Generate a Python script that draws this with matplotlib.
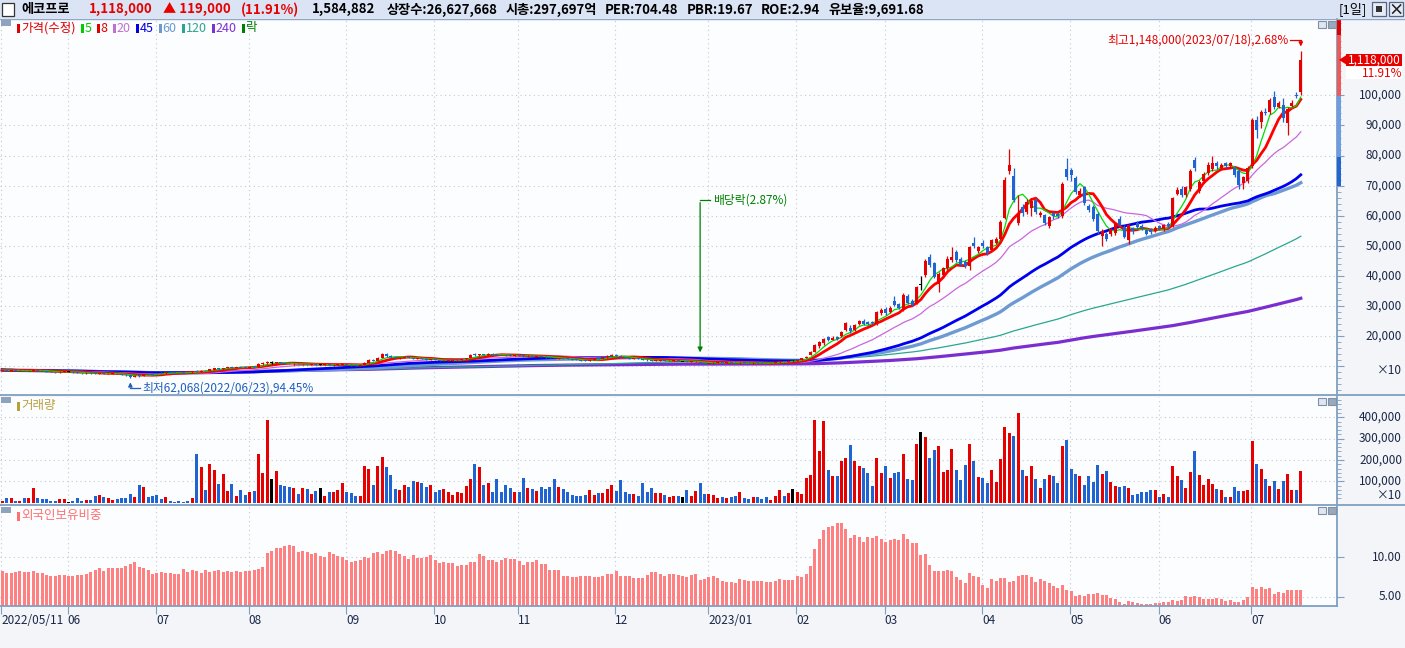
import numpy as np
import pandas as pd
import matplotlib
matplotlib.use("Agg")
import matplotlib.pyplot as plt
from matplotlib.patches import Rectangle, Polygon
from matplotlib.lines import Line2D
from matplotlib.transforms import blended_transform_factory

plt.rcParams['font.family'] = ['Noto Sans CJK KR', 'DejaVu Sans']

W, H = 1405, 648

# daily candles, adjusted price in thousands of won
opens = [
    86, 88, 85, 87, 84, 86, 84, 85, 89, 86,
    84, 82, 81, 80, 81, 82, 82, 80, 78, 77,
    79, 77, 74, 77, 74, 75, 76, 74, 72, 70,
    66, 70, 68, 75, 74, 78, 79, 77, 80, 80,
    79, 80, 81, 80, 86, 82, 86, 84, 89, 93,
    90, 95, 97, 95, 98, 97, 95, 100, 98, 107,
    110, 112, 110, 113, 110, 109, 106, 109, 106, 108,
    105, 107, 105, 104, 106, 103, 104, 105, 108, 105,
    104, 101, 104, 112, 122, 118, 128, 141, 134, 130,
    126, 128, 131, 128, 124, 127, 125, 121, 124, 121,
    117, 118, 119, 120, 121, 123, 127, 140, 136, 141,
    138, 142, 140, 139, 138, 137, 134, 137, 136, 133,
    135, 132, 134, 132, 130, 128, 125, 128, 126, 124,
    123, 121, 120, 118, 121, 126, 124, 130, 134, 139,
    135, 131, 128, 124, 127, 124, 122, 120, 117, 119,
    121, 117, 118, 120, 117, 117, 115, 116, 113, 111,
    109, 110, 111, 114, 111, 113, 112, 110, 113, 112,
    110, 113, 112, 111, 110, 111, 113, 117, 115, 118,
    118, 121, 128, 138, 148, 166, 176, 196, 188, 198,
    200, 222, 228, 220, 240, 250, 246, 248, 240, 277,
    290, 282, 318, 306, 288, 332, 318, 310, 372, 404,
    464, 442, 372, 404, 426, 454, 480, 458, 446, 432,
    508, 482, 510, 496, 486, 510, 522, 592, 750, 732,
    576, 630, 612, 626, 652, 602, 602, 565, 608, 606,
    598, 754, 752, 726, 670, 694, 632, 630, 606, 534,
    538, 540, 542, 588, 564, 518, 558, 577, 566, 552,
    552, 550, 566, 556, 574, 566, 674, 690, 670, 688,
    784, 682, 714, 742, 754, 775, 760, 776, 766, 758,
    750, 708, 714, 765, 918, 912, 946, 944, 995, 962,
    968, 908, 966, 1001, 1012,
]
highs = [
    89, 89, 88, 88, 87, 87, 87, 91, 90, 87,
    85, 83, 82, 83, 84, 83, 83, 81, 79, 80,
    80, 78, 78, 78, 77, 78, 77, 75, 73, 71,
    70, 71, 75, 76, 75, 79, 80, 81, 81, 81,
    80, 81, 82, 84, 88, 87, 87, 92, 95, 94,
    96, 98, 98, 98, 99, 98, 100, 101, 110, 113,
    118, 116, 115, 114, 111, 110, 110, 110, 109, 109,
    108, 108, 106, 107, 107, 106, 107, 110, 109, 106,
    105, 105, 114, 124, 124, 130, 145, 143, 136, 131,
    130, 132, 132, 129, 128, 128, 126, 125, 125, 122,
    120, 121, 122, 123, 125, 128, 141, 143, 142, 142,
    143, 143, 141, 140, 139, 138, 138, 138, 137, 136,
    136, 135, 135, 133, 131, 129, 129, 129, 127, 125,
    124, 122, 121, 122, 126, 127, 131, 136, 140, 141,
    136, 132, 129, 128, 128, 125, 123, 121, 121, 122,
    122, 120, 121, 121, 118, 118, 118, 119, 114, 112,
    112, 113, 115, 115, 114, 114, 113, 113, 114, 113,
    113, 114, 113, 112, 112, 114, 117, 118, 119, 120,
    122, 127, 134, 150, 175, 184, 195, 200, 200, 202,
    218, 248, 236, 240, 254, 256, 250, 252, 284, 292,
    296, 300, 335, 310, 342, 340, 322, 366, 400, 458,
    472, 446, 412, 430, 465, 496, 485, 462, 452, 500,
    530, 500, 520, 500, 524, 530, 586, 730, 822, 760,
    670, 640, 655, 660, 660, 615, 606, 600, 614, 612,
    712, 791, 760, 732, 692, 700, 640, 636, 612, 556,
    545, 560, 580, 600, 568, 572, 562, 582, 572, 556,
    560, 566, 570, 574, 578, 664, 696, 698, 700, 756,
    795, 720, 746, 780, 798, 782, 775, 780, 780, 764,
    756, 732, 765, 925, 930, 950, 958, 990, 1016, 980,
    990, 962, 985, 1010, 1148,
]
lows = [
    85, 85, 84, 84, 83, 83, 83, 84, 85, 83,
    81, 80, 79, 79, 80, 81, 79, 77, 76, 76,
    76, 73, 73, 74, 73, 74, 73, 71, 69, 62.068,
    65, 66, 67, 72, 71, 75, 76, 76, 78, 77,
    77, 78, 79, 79, 81, 81, 83, 83, 88, 89,
    89, 94, 94, 94, 95, 94, 94, 96, 97, 105,
    108, 108, 109, 109, 107, 106, 105, 106, 105, 105,
    104, 104, 104, 103, 103, 102, 103, 104, 104, 102,
    101, 100, 103, 111, 117, 117, 127, 132, 128, 125,
    125, 127, 127, 124, 123, 123, 121, 120, 120, 117,
    116, 117, 118, 119, 120, 122, 126, 135, 135, 137,
    137, 138, 137, 136, 135, 133, 133, 134, 132, 132,
    132, 131, 131, 129, 127, 125, 124, 125, 123, 121,
    120, 118, 117, 117, 120, 123, 123, 129, 133, 134,
    130, 127, 124, 123, 123, 121, 119, 117, 116, 118,
    117, 116, 117, 116, 116, 114, 114, 115, 110, 108,
    108, 109, 110, 111, 110, 110, 109, 109, 110, 109,
    109, 110, 109, 109, 109, 110, 112, 114, 114, 116,
    117, 120, 126, 136, 146, 162, 172, 185, 186, 188,
    196, 218, 212, 216, 236, 236, 236, 240, 238, 272,
    270, 278, 300, 290, 284, 306, 300, 306, 353, 398,
    430, 392, 348, 398, 420, 448, 448, 432, 426, 420,
    494, 478, 494, 470, 482, 506, 518, 588, 740, 645,
    570, 598, 605, 599, 605, 596, 570, 560, 590, 592,
    594, 720, 715, 672, 662, 636, 612, 584, 540, 500,
    515, 532, 536, 565, 525, 505, 540, 556, 552, 535,
    540, 545, 552, 550, 560, 562, 668, 664, 664, 682,
    750, 676, 708, 736, 748, 755, 752, 758, 760, 730,
    690, 690, 708, 760, 860, 890, 935, 938, 955, 958,
    910, 870, 960, 990, 1000,
]
closes = [
    88, 86, 87, 85, 86, 84, 86, 89, 86, 84,
    82, 81, 80, 82, 83, 82, 80, 78, 77, 79,
    77, 74, 77, 75, 76, 77, 74, 72, 70, 66,
    69, 67, 74, 73, 72, 76, 77, 80, 79, 78,
    78, 79, 80, 83, 82, 86, 84, 90, 93, 90,
    95, 97, 95, 97, 96, 95, 99, 97, 107, 111,
    114, 112, 113, 110, 108, 107, 109, 107, 108, 106,
    107, 105, 105, 106, 104, 105, 106, 108, 105, 103,
    102, 104, 112, 121, 118, 128, 140, 134, 130, 127,
    129, 131, 128, 125, 127, 124, 122, 124, 121, 118,
    119, 120, 121, 122, 124, 127, 138, 136, 140, 138,
    141, 139, 138, 137, 136, 134, 137, 135, 133, 135,
    133, 134, 132, 130, 128, 126, 128, 126, 124, 122,
    121, 119, 118, 121, 125, 124, 130, 134, 138, 135,
    131, 128, 125, 127, 124, 122, 120, 118, 120, 121,
    118, 119, 120, 117, 117, 115, 117, 118, 111, 109,
    111, 112, 114, 112, 113, 111, 110, 112, 111, 110,
    112, 111, 110, 110, 111, 113, 116, 115, 118, 118,
    121, 126, 132, 148, 170, 180, 192, 188, 194, 192,
    215, 243, 216, 236, 251, 240, 240, 244, 280, 288,
    276, 292, 305, 294, 336, 310, 305, 362, 372, 450,
    437, 398, 408, 425, 458, 462, 454, 438, 432, 496,
    498, 496, 498, 476, 518, 524, 580, 720, 768, 652,
    610, 608, 645, 650, 614, 610, 576, 596, 598, 598,
    707, 730, 735, 680, 682, 642, 620, 590, 548, 548,
    522, 555, 574, 570, 531, 568, 548, 564, 558, 540,
    546, 560, 560, 570, 566, 660, 686, 670, 696, 750,
    760, 712, 740, 768, 774, 764, 768, 766, 775, 736,
    702, 728, 760, 918, 886, 944, 940, 984, 962, 974,
    924, 956, 976, 999, 1118,
]
# volume in thousands of (x10) shares
volumes = [
    9, 23, 22, 9, 9, 22, 24, 70, 24, 19,
    19, 9, 9, 15, 19, 5, 9, 23, 9, 14,
    14, 33, 38, 28, 23, 14, 19, 23, 23, 42,
    28, 84, 75, 28, 33, 38, 19, 28, 9, 4,
    9, 5, 9, 23, 230, 165, 61, 183, 155, 89,
    136, 56, 89, 33, 61, 38, 52, 56, 230, 141,
    385, 113, 150, 84, 80, 75, 70, 42, 70, 66,
    42, 56, 70, 33, 52, 52, 61, 94, 52, 47,
    33, 33, 174, 160, 84, 174, 216, 165, 130, 64,
    59, 83, 73, 102, 97, 92, 73, 83, 50, 59,
    64, 50, 36, 50, 45, 78, 111, 181, 167, 83,
    92, 50, 111, 50, 83, 69, 50, 50, 116, 69,
    64, 55, 73, 64, 73, 111, 73, 64, 50, 36,
    31, 31, 36, 59, 36, 45, 45, 64, 83, 55,
    106, 50, 41, 41, 31, 92, 50, 69, 45, 45,
    36, 27, 31, 31, 27, 59, 31, 55, 92, 41,
    41, 36, 22, 27, 22, 27, 31, 50, 22, 17,
    27, 27, 17, 27, 12, 31, 59, 31, 45, 64,
    50, 41, 116, 130, 386, 241, 383, 153, 125, 125,
    195, 209, 270, 195, 172, 163, 139, 78, 209, 139,
    172, 116, 139, 144, 228, 111, 106, 275, 331, 309,
    209, 247, 266, 144, 153, 252, 153, 106, 177, 275,
    195, 120, 116, 92, 153, 97, 205, 355, 327, 313,
    420, 153, 125, 172, 111, 69, 111, 130, 125, 92,
    266, 294, 158, 134, 125, 83, 125, 97, 177, 134,
    150, 97, 78, 73, 78, 69, 36, 41, 50, 50,
    59, 59, 27, 42, 28, 174, 127, 108, 67, 142,
    244, 131, 84, 113, 89, 66, 61, 25, 28, 75,
    56, 56, 61, 291, 183, 160, 113, 80, 103, 66,
    103, 136, 61, 61, 150,
]
# foreign ownership ratio, %
foreign_pct = [
    8.26, 8.01, 8.01, 8.14, 8.26, 8.14, 8.14, 8.26, 8.01, 8.01,
    7.75, 7.63, 7.63, 7.75, 7.75, 7.63, 7.63, 7.75, 7.75, 7.88,
    8.14, 8.39, 8.64, 8.26, 8.64, 8.64, 8.64, 8.64, 8.90, 9.15,
    9.41, 8.77, 8.64, 8.39, 7.88, 8.01, 8.14, 8.01, 8.01, 7.88,
    7.88, 8.52, 8.14, 8.39, 8.26, 8.01, 8.39, 8.14, 8.26, 8.39,
    8.14, 8.26, 8.14, 8.26, 8.14, 8.26, 8.26, 8.39, 8.52, 8.77,
    10.55, 10.81, 11.19, 11.19, 11.44, 11.57, 11.44, 10.68, 10.81, 10.68,
    10.42, 10.55, 10.17, 10.04, 10.68, 10.42, 10.17, 10.04, 9.66, 9.41,
    9.53, 9.66, 10.04, 9.92, 10.55, 10.68, 10.42, 10.81, 10.93, 10.80,
    10.42, 10.17, 9.79, 10.30, 9.92, 9.92, 10.04, 10.30, 9.66, 9.28,
    9.40, 9.28, 9.28, 8.90, 9.03, 9.03, 9.40, 9.40, 10.42, 10.17,
    9.66, 9.66, 9.40, 9.66, 9.92, 9.79, 9.79, 9.53, 9.03, 9.40,
    9.40, 9.66, 9.15, 9.15, 8.39, 8.39, 8.39, 7.63, 7.63, 7.50,
    7.50, 7.63, 7.63, 7.63, 7.50, 7.50, 7.63, 7.88, 7.88, 8.26,
    7.63, 7.63, 7.63, 7.37, 7.37, 7.37, 7.75, 8.14, 8.14, 7.88,
    7.63, 7.88, 7.88, 7.75, 7.63, 7.50, 7.75, 7.88, 7.12, 7.25,
    7.50, 7.63, 7.37, 6.99, 6.86, 6.86, 6.74, 7.25, 7.12, 6.99,
    6.99, 6.99, 6.99, 6.86, 6.86, 6.99, 7.25, 7.12, 7.12, 7.12,
    7.63, 7.50, 7.88, 8.90, 11.06, 12.33, 13.47, 13.86, 13.98, 14.36,
    14.36, 13.60, 12.46, 12.84, 12.58, 11.95, 12.58, 12.46, 12.71, 12.33,
    11.95, 12.20, 12.33, 12.20, 12.97, 12.33, 11.82, 11.82, 10.30, 10.42,
    9.03, 8.26, 8.26, 8.26, 8.39, 8.26, 7.50, 7.12, 6.74, 8.00,
    7.63, 7.50, 6.48, 6.10, 7.25, 6.99, 7.37, 7.37, 6.86, 6.99,
    7.63, 7.75, 7.75, 7.50, 6.86, 7.25, 6.99, 6.74, 6.36, 6.10,
    6.48, 5.85, 5.72, 5.08, 5.21, 5.08, 5.34, 5.34, 5.47, 5.21,
    5.21, 4.83, 4.70, 4.32, 4.07, 4.45, 4.32, 4.19, 4.07, 4.07,
    4.07, 4.19, 4.19, 4.32, 4.32, 4.53, 4.45, 4.62, 5.04, 4.96,
    5.04, 4.96, 4.66, 4.66, 4.66, 4.83, 4.66, 4.45, 4.62, 4.36,
    4.27, 4.53, 4.96, 6.24, 5.98, 6.20, 5.98, 6.07, 5.38, 5.56,
    5.43, 5.81, 5.81, 5.81, 5.81,
]

month_idx = [0, 15, 35, 56, 78, 98, 117, 139, 160, 180, 200, 222, 242, 262, 283]
month_lbl = ['2022/05/11', '06', '07', '08', '09', '10', '11', '12',
             '2023/01', '02', '03', '04', '05', '06', '07']

ma_periods = [240, 120, 60, 45, 20, 8, 5]
ma_colors = ['#7a2ed0', '#2ba690', '#6e9ad2', '#0000ee', '#cc66dd', '#ff0000', '#00dd00']
ma_widths = [2.3, 0.9, 2.4, 2.0, 0.9, 2.0, 0.9]

header_info = ['상장수:26,627,668', '시총:297,697억', 'PER:704.48', 'PBR:19.67',
               'ROE:2.94', '유보율:9,691.68']

prev_close = 999
last_price = 1118
dividend_idx = 158
low_idx, high_idx = 29, 294

RED, BLUE, BLACK = '#e60000', '#1f64d2', '#000000'
AXC = '#7f9fc0'
TXT = '#1b2748'
GRID = dict(color='#c3cad4', lw=0.8, ls=(0, (1, 3)))

fig = plt.figure(figsize=(W / 100, H / 100), dpi=100, facecolor='#f3f5f8')
renderer = fig.canvas.get_renderer()


def frac(x0, y0, x1, y1):
    return [x0 / W, 1 - y1 / H, (x1 - x0) / W, (y1 - y0) / H]


def ptext(x, y, s, **kw):
    kw.setdefault('va', 'center')
    return fig.text(x / W, 1 - y / H, s, **kw)


def prect(x0, y0, x1, y1, **kw):
    fig.patches.append(Rectangle((x0 / W, 1 - y1 / H), (x1 - x0) / W, (y1 - y0) / H,
                                 transform=fig.transFigure, figure=fig, **kw))


def hline(y, x0=0, x1=W, color=AXC, lw=1.3):
    fig.add_artist(Line2D([x0 / W, x1 / W], [1 - y / H] * 2, color=color, lw=lw,
                          transform=fig.transFigure))


ax_p = fig.add_axes(frac(0, 19, 1337, 395))
ax_v = fig.add_axes(frac(0, 397, 1337, 504))
ax_f = fig.add_axes(frac(0, 506, 1337, 606))

x = np.arange(len(closes))
o, h, l, c = (np.array(a, dtype=float) for a in (opens, highs, lows, closes))
cols = np.where(c > o, RED, np.where(c < o, BLUE, BLACK))
XLIM = (-0.52, 302.2)
LABX = 1402 / 1337


def style(ax, ylim, major, minor, labels):
    ax.set_facecolor('#fbfdff')
    ax.set_xlim(*XLIM)
    ax.set_ylim(*ylim)
    for s in ['top', 'left', 'bottom']:
        ax.spines[s].set_visible(False)
    ax.spines['right'].set_color(AXC)
    ax.spines['right'].set_linewidth(1.3)
    ax.yaxis.tick_right()
    ax.set_yticks(major)
    ax.set_yticks(minor, minor=True)
    ax.tick_params(axis='y', which='major', length=5, color=AXC, labelright=False)
    ax.tick_params(axis='y', which='minor', length=3, color=AXC)
    ax.set_xticks(np.array(month_idx) - 0.2)
    ax.tick_params(axis='x', length=0, labelbottom=False)
    ax.grid(True, which='major', **GRID)
    ax.set_axisbelow(True)
    tr = blended_transform_factory(ax.transAxes, ax.transData)
    for v, s in labels:
        ax.text(LABX, v, s, transform=tr, ha='right', va='center', fontsize=8.5,
                color=TXT, clip_on=False)


# price panel
price_ticks = list(range(100, 1001, 100))
price_labels = [(v, f'{v * 100:,}') for v in price_ticks if v > 100] + [(85, '×10')]
style(ax_p, (4.65, 1253.7), price_ticks, np.arange(20, 1250, 20), price_labels)

close_s = pd.Series(c)
for p, col, lw in zip(ma_periods, ma_colors, ma_widths):
    ax_p.plot(x, close_s.rolling(p, min_periods=1).mean(), color=col, lw=lw, zorder=3)

body = np.abs(c - o)
bottom = np.minimum(o, c)
flat = body == 0
body[flat] = 2.5
bottom[flat] -= 1.25
ax_p.vlines(x, l, h, colors=cols, lw=0.9, zorder=4)
ax_p.bar(x, body, bottom=bottom, width=0.68, color=cols, lw=0, zorder=5)

# high / low / ex-dividend notes
ax_p.text(291.3, 1184, f'최고{highs[high_idx] * 1000:,.0f}(2023/07/18),2.68%', color=RED,
          fontsize=8.5, ha='right', va='center')
ax_p.plot([291.6, high_idx], [1184, 1184], color=RED, lw=0.9)
ax_p.annotate('', xy=(high_idx, 1153), xytext=(high_idx, 1185),
              arrowprops=dict(arrowstyle='-|>', color=RED, lw=0.9, mutation_scale=6))

low_c = '#1f5fbf'
ax_p.annotate('', xy=(low_idx, 56), xytext=(low_idx, 27),
              arrowprops=dict(arrowstyle='-|>', color=low_c, lw=0.9, mutation_scale=6))
ax_p.plot([low_idx, low_idx + 2.2], [27.5, 27.5], color=low_c, lw=0.9)
ax_p.text(low_idx + 2.8, 29, f'최저{lows[low_idx] * 1000:,.0f}(2022/06/23),94.45%', color=low_c,
          fontsize=8.5, ha='left', va='center')

grn = '#008000'
ax_p.plot([dividend_idx, dividend_idx + 2.3], [652, 652], color=grn, lw=0.9)
ax_p.annotate('', xy=(dividend_idx, 137), xytext=(dividend_idx, 653),
              arrowprops=dict(arrowstyle='-|>', color=grn, lw=0.9, mutation_scale=7))
ax_p.text(dividend_idx + 2.9, 652, '배당락(2.87%)', color=grn, fontsize=8.5, va='center')

# price limit band on the axis and current price tag
trp = blended_transform_factory(ax_p.transAxes, ax_p.transData)
bands = [(prev_close * 0.7, 795, '#2366d1'), (795, prev_close, '#6d9de0'),
         (prev_close, 1200, '#ee5a5a'), (1200, 1253.7, '#e00000')]
for y0, y1, col in bands:
    ax_p.add_patch(Rectangle((1.0, y0), 4 / 1337, y1 - y0, transform=trp, fc=col, lw=0,
                             clip_on=False, zorder=6))
ax_p.add_patch(Rectangle((1346 / 1337, last_price - 20), 56 / 1337, 41, transform=trp,
                         fc=RED, lw=0, clip_on=False, zorder=7))
ax_p.add_patch(Polygon([(1339 / 1337, last_price), (1347 / 1337, last_price + 17),
                        (1347 / 1337, last_price - 17)], transform=trp, fc=RED, lw=0,
                       clip_on=False, zorder=7))
ax_p.text(1374 / 1337, last_price, f'{last_price * 1000:,}', transform=trp, color='white',
          fontsize=8.5, ha='center', va='center', zorder=8, clip_on=False)
ax_p.add_patch(Rectangle((1346 / 1337, 1055), 56 / 1337, 39, transform=trp, fc='white',
                         lw=0, clip_on=False, zorder=7))
ax_p.text(LABX, 1074, '11.91%', transform=trp, color=RED, fontsize=8.5, ha='right',
          va='center', zorder=8, clip_on=False)

# volume panel
vol_ticks = [100, 200, 300, 400]
style(ax_v, (-6.1, 495), vol_ticks, np.arange(20, 495, 20),
      [(v, f'{v * 1000:,}') for v in vol_ticks] + [(36, '×10')])
ax_v.bar(x, volumes, width=0.68, color=cols, lw=0)

# foreign ownership panel
style(ax_f, (3.82, 16.5), [5, 10], [], [(5, '5.00'), (10, '10.00')])
ax_f.bar(x, foreign_pct, width=0.68, color='#ff8080', lw=0)
ax_f.spines['bottom'].set_visible(True)
ax_f.spines['bottom'].set_color(AXC)
ax_f.spines['bottom'].set_linewidth(1.3)
ax_f.set_xticklabels(month_lbl)
ax_f.tick_params(axis='x', length=6, color=AXC, labelbottom=True, labelsize=8.5,
                 labelcolor=TXT, pad=0)
for t in ax_f.get_xticklabels():
    t.set_ha('left')

# panel separators
hline(395)
hline(505)

# header bar
prect(0, 0, W, 18, fc='#dbe4f4', lw=0)
hline(18.5, color='#8fa6c8', lw=1.0)
prect(2, 3, 14, 16, fc='white', ec='#333333', lw=0.9)
head = [(21, '에코프로', 'black'), (89, '1,118,000', RED), (163, '▲ 119,000', RED),
        (241, '(11.91%)', RED), (312, '1,584,882', 'black')]
for hx, s, col in head:
    ptext(hx, 9.5, s, color=col, fontsize=9.5, fontweight='bold')
hx = 387
for s in header_info:
    t = ptext(hx, 9.5, s, color='black', fontsize=9.5, fontweight='bold')
    hx = t.get_window_extent(renderer).x1 + 8
ptext(1339, 9.5, '[1일]', color='black', fontsize=9.5)
for bx in (1372, 1389):
    prect(bx, 2, bx + 14, 16, fc='#e6ecf6', ec='#55657f', lw=0.9)
prect(1376, 6, 1382, 12, fc='#333333', lw=0)
ptext(1396, 9.5, '×', color='#222222', fontsize=11, ha='center', fontweight='bold')


# panel icons and legends
def legend_row(y, items, x=17):
    for label, col in items:
        prect(x, y - 4.5, x + 3, y + 4.5, fc=col, lw=0)
        t = ptext(x + 4, y, label, color=col, fontsize=9)
        x = t.get_window_extent(renderer).x1 + 5


for top in (20, 397, 507):
    prect(1, top, 11, top + 6, fc='#8fa3bf', lw=0)
for top in (21, 398, 507):
    prect(1318, top, 1326, top + 7, fc='#dfe6f0', ec='#8090a8', lw=0.8)
    prect(1328, top, 1336, top + 7, fc='#9aa8bc', ec='#8090a8', lw=0.8)

legend_row(28, [('가격(수정)', '#e00000'), ('5', '#00cc00'), ('8', '#e00000'),
                ('20', '#c070d0'), ('45', '#0000e0'), ('60', '#6a9ad0'),
                ('120', '#2aa58f'), ('240', '#8030d0'), ('락', '#008000')])
legend_row(406, [('거래량', '#b8a03c')])
legend_row(516, [('외국인보유비중', '#ff7070')])

fig.savefig('out.png', dpi=100, facecolor=fig.get_facecolor())
